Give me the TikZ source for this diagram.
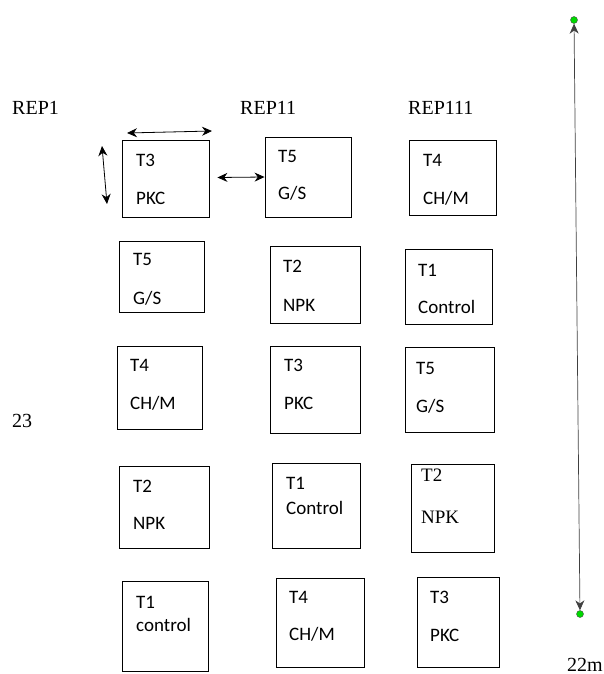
\documentclass[tikz,border=0pt]{standalone}
\usepackage{fontspec}
\setmainfont{Liberation Serif}
\newfontfamily\plotfont{Carlito}
\usepackage{tikz}
\usetikzlibrary{arrows.meta}

\begin{document}
\begin{tikzpicture}[x=1pt,y=-1pt,
  plot/.style={draw, line width=0.9pt, inner sep=0pt},
  trt/.style={anchor=base west, inner sep=0pt, font=\plotfont\fontsize{19}{22}\selectfont},
  trtserif/.style={anchor=base west, inner sep=0pt, font=\fontsize{19}{22}\selectfont},
  rep/.style={anchor=base west, inner sep=0pt, font=\fontsize{20}{24}\selectfont},
  dim/.style={{Stealth[length=10pt,width=9pt]}-{Stealth[length=10pt,width=9pt]}, line width=0.8pt},
  pin/.style={circle, draw=black!70, fill=green!85!black, inner sep=0pt, minimum size=7pt, line width=0.4pt}]

\useasboundingbox (0,0) rectangle (604,674);

% replicate headings
\node[rep] (rep1) at (12,115) {REP1};
\node[rep] (rep2) at (240,115) {REP11};
\node[rep] (rep3) at (408,115) {REP111};
\node[rep] (len) at (12,427) {23};
\node[rep] (wid) at (567,671) {22m};

% REP1 plots
\node[plot, minimum width=87, minimum height=77] (a1) at (165.5,178.5) {};
\node[plot, minimum width=85, minimum height=71] (a2) at (161.5,276.5) {};
\node[plot, minimum width=85, minimum height=83] (a3) at (159.5,387.5) {};
\node[plot, minimum width=90, minimum height=82] (a4) at (164,507) {};
\node[plot, minimum width=86, minimum height=90] (a5) at (165,626) {};

\node[trt] (a1t) at (136,166) {T3};
\node[trt] (a1n) at (136,204) {PKC};
\node[trt] (a2t) at (133,265) {T5};
\node[trt] (a2n) at (133,304) {G/S};
\node[trt] (a3t) at (130,371) {T4};
\node[trt] (a3n) at (130,409) {CH/M};
\node[trt] (a4t) at (133,492) {T2};
\node[trt] (a4n) at (133,529) {NPK};
\node[trt] (a5t) at (136,608) {T1};
\node[trt] (a5n) at (136,631) {control};

% REP11 plots
\node[plot, minimum width=86, minimum height=80] (b1) at (308,177) {};
\node[plot, minimum width=90, minimum height=77] (b2) at (315,284.5) {};
\node[plot, minimum width=90, minimum height=87] (b3) at (315,389.5) {};
\node[plot, minimum width=88, minimum height=85] (b4) at (316,505.5) {};
\node[plot, minimum width=88, minimum height=89] (b5) at (320,622.5) {};

\node[trt] (b1t) at (278,162) {T5};
\node[trt] (b1n) at (278,199) {G/S};
\node[trt] (b2t) at (283,272) {T2};
\node[trt] (b2n) at (283,311) {NPK};
\node[trt] (b3t) at (284,371) {T3};
\node[trt] (b3n) at (284,409) {PKC};
\node[trt] (b4t) at (286,489) {T1};
\node[trt] (b4n) at (286,514) {Control};
\node[trt] (b5t) at (289,603) {T4};
\node[trt] (b5n) at (289,640) {CH/M};

% REP111 plots
\node[plot, minimum width=87, minimum height=75] (c1) at (452.5,177.5) {};
\node[plot, minimum width=87, minimum height=75] (c2) at (448.5,286.5) {};
\node[plot, minimum width=89, minimum height=85] (c3) at (449.5,389.5) {};
\node[plot, minimum width=83, minimum height=88] (c4) at (452.5,508) {};
\node[plot, minimum width=82, minimum height=90] (c5) at (458,622) {};

\node[trt] (c1t) at (423,166) {T4};
\node[trt] (c1n) at (423,204) {CH/M};
\node[trt] (c2t) at (418,276) {T1};
\node[trt] (c2n) at (418,313) {Control};
\node[trt] (c3t) at (416,374) {T5};
\node[trt] (c3n) at (416,412) {G/S};
\node[trtserif] (c4t) at (421,481) {T2};
\node[trtserif] (c4n) at (421,523) {NPK};
\node[trt] (c5t) at (430,603) {T3};
\node[trt] (c5n) at (430,641) {PKC};

% plot size arrows
\coordinate (w1) at (127,133);
\coordinate (w2) at (212,131);
\coordinate (h1) at (102,146);
\coordinate (h2) at (107,204);
\draw[dim] (w1) -- (w2);
\draw[dim] (h1) -- (h2);
\draw[dim] ([xshift=8pt,yshift=1pt]a1.east) -- (b1.west);

% field length
\node[pin] (top) at (574,20) {};
\node[pin] (bot) at (580,614) {};
\draw[dim, draw=black!75, line width=0.7pt] (top) -- (bot);

\end{tikzpicture}
\end{document}
